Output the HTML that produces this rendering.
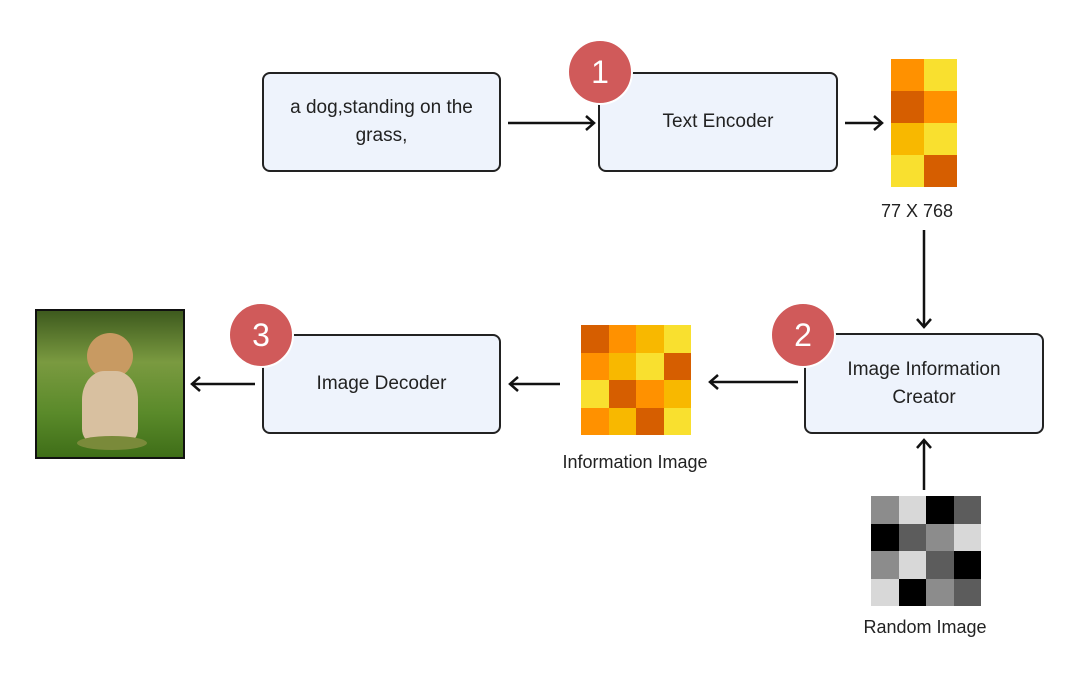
<!DOCTYPE html>
<html><head><style>
body{margin:0;width:1080px;height:675px;background:#fff;position:relative;font-family:"Liberation Sans",sans-serif;overflow:hidden}
.box{position:absolute;background:#eef3fc;border:2px solid #222;border-radius:8px;box-sizing:border-box;display:flex;align-items:center;justify-content:center;text-align:center;font-size:19px;color:#222;line-height:28px}
.c{position:absolute;width:66px;height:66px;border-radius:50%;background:#d05a5a;color:#fff;font-size:32px;display:flex;align-items:center;justify-content:center;border:2px solid #fff;box-sizing:border-box}
.g{position:absolute;display:grid}
.g div{width:100%;height:100%}
.t{position:absolute;font-size:18px;color:#222;transform:translateX(-50%);white-space:nowrap}
</style></head><body>
<svg width="1080" height="675" style="position:absolute;left:0;top:0">
<defs><marker id="a" markerWidth="12" markerHeight="16" refX="10" refY="8" orient="auto" markerUnits="userSpaceOnUse"><path d="M2,1 L10,8 L2,15" fill="none" stroke="#111" stroke-width="2.5"/></marker></defs>
<g stroke="#111" stroke-width="2.5" marker-end="url(#a)">
<line x1="508" y1="123" x2="594" y2="123"/>
<line x1="845" y1="123" x2="882" y2="123"/>
<line x1="924" y1="230" x2="924" y2="327"/>
<line x1="798" y1="382" x2="710" y2="382"/>
<line x1="560" y1="384" x2="510" y2="384"/>
<line x1="924" y1="490" x2="924" y2="440"/>
<line x1="255" y1="384" x2="192" y2="384"/>
</g></svg>
<div class="box" style="left:262px;top:72px;width:239px;height:100px;padding:0 14px">a dog,standing on the<br>grass,</div>
<div class="box" style="left:598px;top:72px;width:240px;height:100px">Text Encoder</div>
<div class="box" style="left:804px;top:333px;width:240px;height:101px">Image Information<br>Creator</div>
<div class="box" style="left:262px;top:334px;width:239px;height:100px">Image Decoder</div>
<div class="c" style="left:567px;top:39px">1</div>
<div class="c" style="left:770px;top:302px">2</div>
<div class="c" style="left:228px;top:302px">3</div>
<div class="g" style="left:891px;top:59px;width:66px;height:128px;grid-template-columns:1fr 1fr;grid-template-rows:repeat(4,1fr)">
<div style="background:#ff9100"></div><div style="background:#f9e02f"></div>
<div style="background:#d65e00"></div><div style="background:#ff9100"></div>
<div style="background:#f8b800"></div><div style="background:#f9e02f"></div>
<div style="background:#f9e02f"></div><div style="background:#d65e00"></div></div>
<div class="g" style="left:581px;top:325px;width:110px;height:110px;grid-template-columns:repeat(4,1fr);grid-template-rows:repeat(4,1fr)">
<div style="background:#d65e00"></div><div style="background:#ff9100"></div><div style="background:#f8b800"></div><div style="background:#f9e02f"></div>
<div style="background:#ff9100"></div><div style="background:#f8b800"></div><div style="background:#f9e02f"></div><div style="background:#d65e00"></div>
<div style="background:#f9e02f"></div><div style="background:#d65e00"></div><div style="background:#ff9100"></div><div style="background:#f8b800"></div>
<div style="background:#ff9100"></div><div style="background:#f8b800"></div><div style="background:#d65e00"></div><div style="background:#f9e02f"></div></div>
<div class="g" style="left:871px;top:496px;width:110px;height:110px;grid-template-columns:repeat(4,1fr);grid-template-rows:repeat(4,1fr)">
<div style="background:#8c8c8c"></div><div style="background:#d8d8d8"></div><div style="background:#000"></div><div style="background:#5c5c5c"></div>
<div style="background:#000"></div><div style="background:#5c5c5c"></div><div style="background:#8c8c8c"></div><div style="background:#d8d8d8"></div>
<div style="background:#8c8c8c"></div><div style="background:#d8d8d8"></div><div style="background:#5c5c5c"></div><div style="background:#000"></div>
<div style="background:#d8d8d8"></div><div style="background:#000"></div><div style="background:#8c8c8c"></div><div style="background:#5c5c5c"></div></div>
<div style="position:absolute;left:35px;top:309px;width:150px;height:150px;border:2px solid #111;box-sizing:border-box;background:linear-gradient(180deg,#3e5a1e 0%,#7a9a40 35%,#5a8a2a 70%,#3f6e18 100%);overflow:hidden">
<div style="position:absolute;left:50px;top:22px;width:46px;height:46px;border-radius:50%;background:#c89a62"></div>
<div style="position:absolute;left:45px;top:60px;width:56px;height:72px;border-radius:40% 40% 20% 20%;background:#d8c0a0"></div>
<div style="position:absolute;left:40px;top:125px;width:70px;height:14px;border-radius:50%;background:#7a8a3a"></div>
</div>
<div class="t" style="left:917px;top:201px">77 X 768</div>
<div class="t" style="left:635px;top:452px">Information Image</div>
<div class="t" style="left:925px;top:617px">Random Image</div>
</body></html>
